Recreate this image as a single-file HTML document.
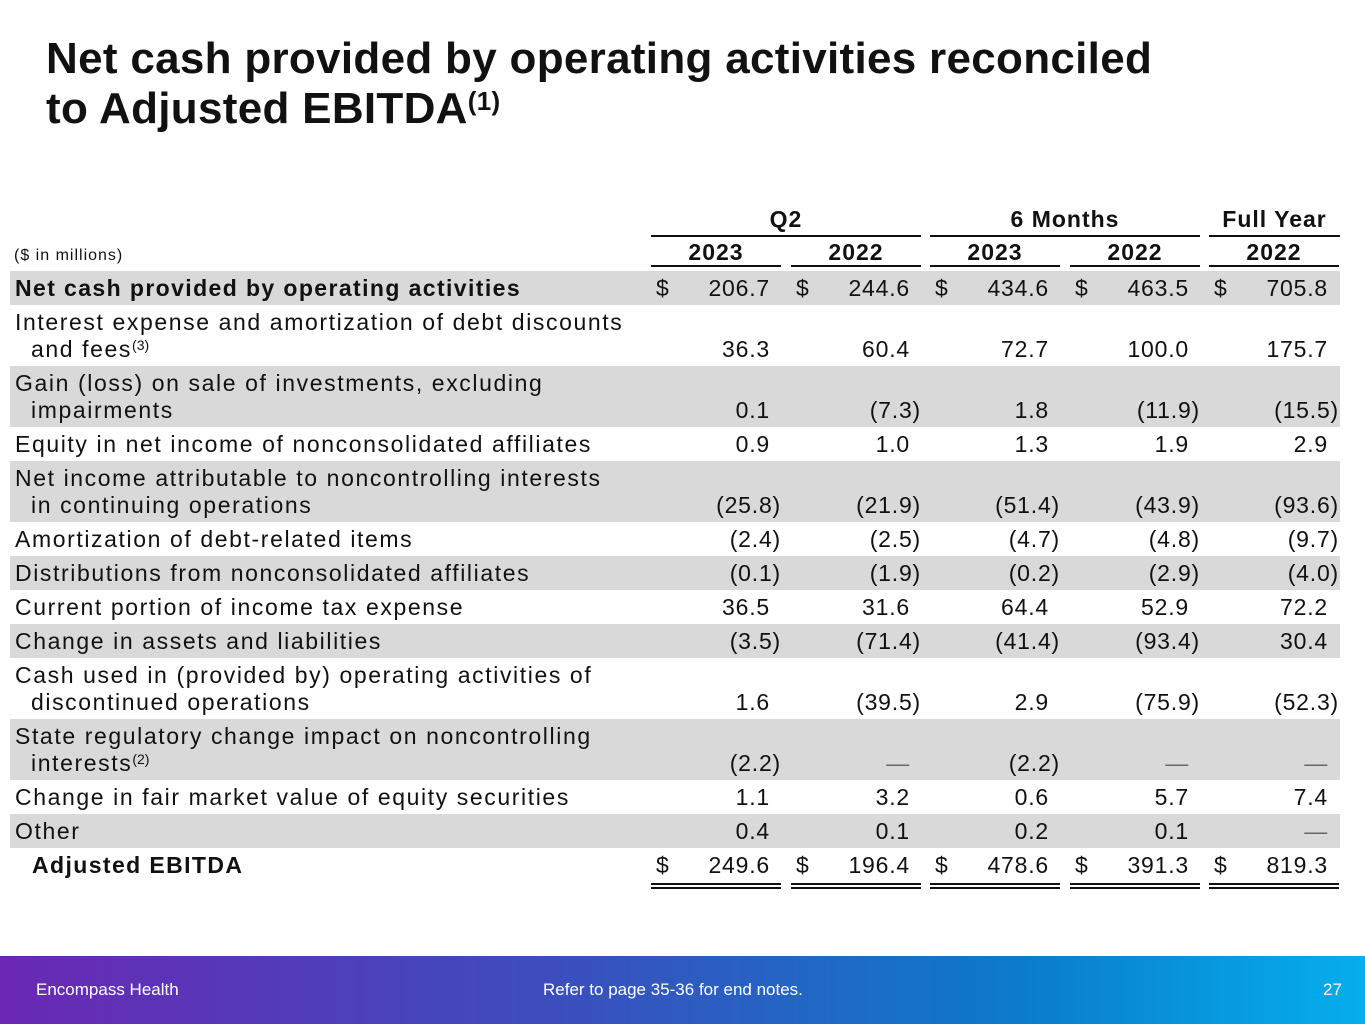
<!DOCTYPE html>
<html><head><meta charset="utf-8"><style>
body{margin:0;width:1365px;height:1024px;position:relative;background:#fff;font-family:"Liberation Sans",sans-serif;color:#111;overflow:hidden}
.abs{position:absolute}
h1{position:absolute;left:46px;top:34px;margin:0;font-size:44px;line-height:50px;font-weight:bold;color:#111;letter-spacing:0.3px;white-space:nowrap}
h1 sup{font-size:26px;vertical-align:top;position:relative;top:-8px}
.row{position:absolute;left:10px;width:1330px}
.lab{position:absolute;left:5px;font-size:23px;line-height:27px;white-space:nowrap;letter-spacing:1.6px}
.val{position:absolute;font-size:23px;line-height:27px;text-align:right;white-space:nowrap;letter-spacing:0.8px}
.dol{position:absolute;font-size:23px;line-height:27px}
.hdr{position:absolute;font-size:23px;font-weight:bold;text-align:center;line-height:27px;letter-spacing:1px}
.ul{position:absolute;height:2px;background:#111}
sup.s{font-size:14px;vertical-align:top;position:relative;top:-4px;letter-spacing:0}
#footer{position:absolute;left:0;top:956px;width:1365px;height:68px;background:linear-gradient(90deg,#6a28b4 0%,#3d4dbd 40%,#0b7cca 75%,#05aeee 100%);color:#fff;font-size:17px}
</style></head><body>
<h1>Net cash provided by operating activities reconciled<br>to Adjusted EBITDA<sup>(1)</sup></h1>
<div id="tbl"></div>
<div id="footer">
<span class="abs" style="left:36px;top:24px">Encompass Health</span>
<span class="abs" style="left:543px;top:24px">Refer to page 35-36 for end notes.</span>
<span class="abs" style="left:1323px;top:24px">27</span>
</div>
<script>
const labels=[
["Net cash provided by operating activities"],
["Interest expense and amortization of debt discounts","and fees<sup class='s'>(3)</sup>"],
["Gain (loss) on sale of investments, excluding","impairments"],
["Equity in net income of nonconsolidated affiliates"],
["Net income attributable to noncontrolling interests","in continuing operations"],
["Amortization of debt-related items"],
["Distributions from nonconsolidated affiliates"],
["Current portion of income tax expense"],
["Change in assets and liabilities"],
["Cash used in (provided by) operating activities of","discontinued operations"],
["State regulatory change impact on noncontrolling","interests<sup class='s'>(2)</sup>"],
["Change in fair market value of equity securities"],
["Other"],
["Adjusted EBITDA"]];
const q2_2023=["206.7","36.3","0.1","0.9","(25.8)","(2.4)","(0.1)","36.5","(3.5)","1.6","(2.2)","1.1","0.4","249.6"];
const q2_2022=["244.6","60.4","(7.3)","1.0","(21.9)","(2.5)","(1.9)","31.6","(71.4)","(39.5)","—","3.2","0.1","196.4"];
const m6_2023=["434.6","72.7","1.8","1.3","(51.4)","(4.7)","(0.2)","64.4","(41.4)","2.9","(2.2)","0.6","0.2","478.6"];
const m6_2022=["463.5","100.0","(11.9)","1.9","(43.9)","(4.8)","(2.9)","52.9","(93.4)","(75.9)","—","5.7","0.1","391.3"];
const fy_2022=["705.8","175.7","(15.5)","2.9","(93.6)","(9.7)","(4.0)","72.2","30.4","(52.3)","—","7.4","—","819.3"];
const series=[q2_2023,q2_2022,m6_2023,m6_2022,fy_2022];
const years=["2023","2022","2023","2022","2022"];
const colL=[651,791,930,1070,1209], colW=130;
const tbl=document.getElementById('tbl');
function add(cls,style,html,name){const d=document.createElement('div');d.className=cls;d.style.cssText=style;d.innerHTML=html;


tbl.appendChild(d);return d;}
add('abs','left:14px;top:247px;font-size:16px;letter-spacing:1px','($ in millions)','units-note');
add('hdr','left:651px;width:270px;top:206px','Q2','header-q2');
add('hdr','left:930px;width:270px;top:206px','6 Months','header-6-months');
add('hdr','left:1209px;width:131px;top:206px','Full Year','header-full-year');
add('ul','left:651px;width:270px;top:235px','','underline-q2');
add('ul','left:930px;width:270px;top:235px','','underline-6-months');
add('ul','left:1209px;width:131px;top:235px','','underline-full-year');
colL.forEach((x,i)=>{add('hdr',`left:${x}px;width:${colW}px;top:239px`,years[i],'year-header');
add('ul',`left:${x}px;width:${colW}px;top:265px`,'','year-underline');});
let y=271;
labels.forEach((lab,r)=>{
 const h=lab.length>1?61:34;
 const bold=(r===0||r===13);
 add('row',`top:${y}px;height:${h}px;background:${r%2===0&&r!==13?'#d9d9d9':'transparent'}`,'','table-row');
 add('lab',`top:${y+4}px;left:${r===13?32:15}px;font-weight:${bold?'bold':'normal'};letter-spacing:${bold?1.4:1.6}px`,lab.map((t,k)=>k?'&nbsp;&nbsp;'+t:t).join('<br>'),'row-label');
 const vy=y+h-30;
 series.forEach((s,c)=>{
  const v=s[r]; const par=v.startsWith('(');
  const right=1365-(colL[c]+colW)+(par?0:11);
  add('val',`top:${vy}px;right:${right}px;${v==='—'?'color:#666;':''}`,v,'cell-value');
  if(r===0||r===13) add('dol',`top:${vy}px;left:${colL[c]+5}px`,'$','dollar-sign');
  if(r===13){add('ul',`left:${colL[c]}px;width:${colW}px;top:${y+35}px`,'','double-underline');
   add('ul',`left:${colL[c]}px;width:${colW}px;top:${y+39}px`,'','double-underline');}
 });
 y+=h;
});
</script>
</body></html>
